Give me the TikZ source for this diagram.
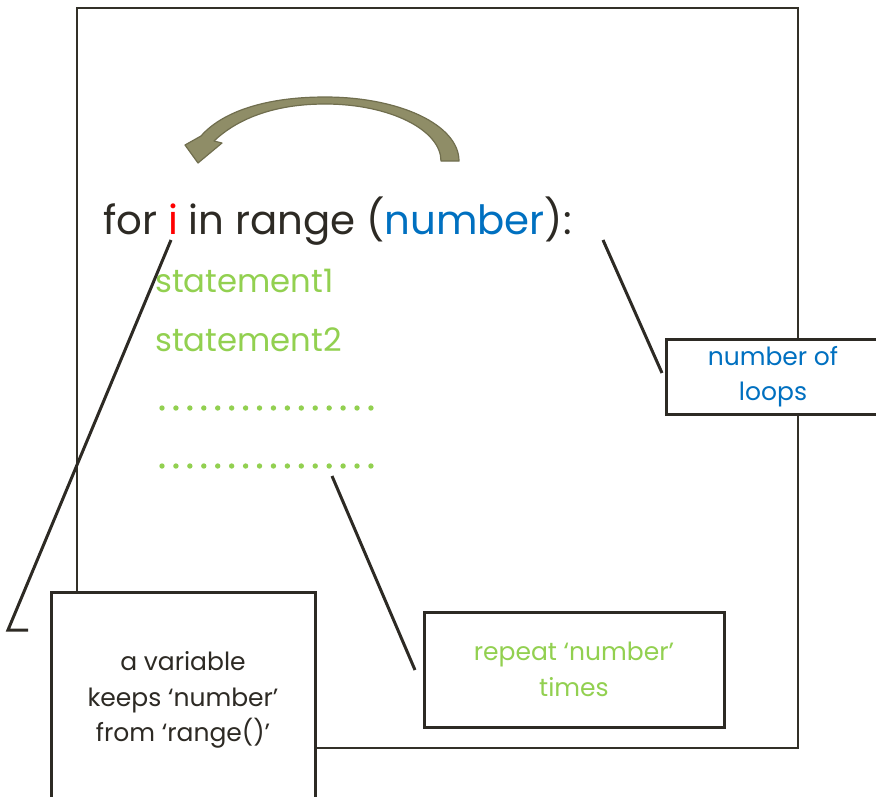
\documentclass[tikz,border=0pt]{standalone}
\usepackage{fontspec}
\setmainfont{Poppins}
\definecolor{ink}{RGB}{45,42,36}
\definecolor{frameink}{RGB}{50,48,40}
\definecolor{codegreen}{RGB}{146,208,80}
\definecolor{codeblue}{RGB}{0,112,192}
\definecolor{arrowfill}{RGB}{143,141,103}
\definecolor{arrowline}{RGB}{112,110,78}
\tikzset{
  callbox/.style={draw=ink, line width=3pt, fill=white, align=center, inner sep=0pt,
    font=\fontsize{25}{35.5}\selectfont},
  leader/.style={draw=ink, line width=3pt},
  codeline/.style={anchor=base west, inner sep=0pt},
}
\begin{document}
\begin{tikzpicture}[x=1pt,y=-1pt]
\useasboundingbox (0,0) rectangle (876,796);
% outer frame
\draw[frameink, line width=1.6pt] (77,8) rectangle (798,748);
% curved arrow
\filldraw[fill=arrowfill, draw=arrowline, line width=1.2pt, line join=round]
  (459,161) .. controls (459,125) and (400,97) .. (325,97)
  .. controls (265,97) and (222,112) .. (201,136)
  -- (185,145) -- (198,163) -- (222,143) -- (214,141)
  .. controls (236,120) and (272,104) .. (325,104)
  .. controls (390,104) and (441,130) .. (441,161) -- cycle;
% code text
\node[codeline, text=ink, font=\fontsize{40.3}{40}\selectfont] (forline) at (103,234)
  {for {\color{red}i} in range ({\color{codeblue}number}):};
\node[codeline, text=codegreen, font=\fontsize{32.3}{32}\selectfont] (st1) at (155,292) {statement1};
\node[codeline, text=codegreen, font=\fontsize{32.3}{32}\selectfont] (st2) at (155,351) {statement2};
\foreach \k in {0,...,15} {
  \fill[codegreen] (162+\k*13.93,408) circle (2.7);
  \fill[codegreen] (162+\k*13.93,466) circle (2.7);
}
% callout boxes
\node[callbox, minimum width=264pt, minimum height=216pt, text=ink] (varbox) at (183,700)
  {a variable\\keeps ‘number’\\from ‘range()’};
\node[callbox, minimum width=214pt, minimum height=75pt, text=codeblue] (loopbox) at (773,376.5)
  {number of\\loops};
\node[callbox, minimum width=300pt, minimum height=115pt, text=codegreen] (repbox) at (574,669.5)
  {repeat ‘number’\\times};
% leaders
\coordinate (ipt) at (171,240);
\coordinate (ibend) at (8,630);
\coordinate (ifoot) at (28,630);
\coordinate (npt) at (603,240);
\coordinate (nend) at (662,373);
\coordinate (dpt) at (332,476);
\coordinate (dend) at (415,670);
\draw[leader] (ipt) -- (ibend) -- (ifoot);
\draw[leader] (npt) -- (nend);
\draw[leader] (dpt) -- (dend);
\end{tikzpicture}
\end{document}
